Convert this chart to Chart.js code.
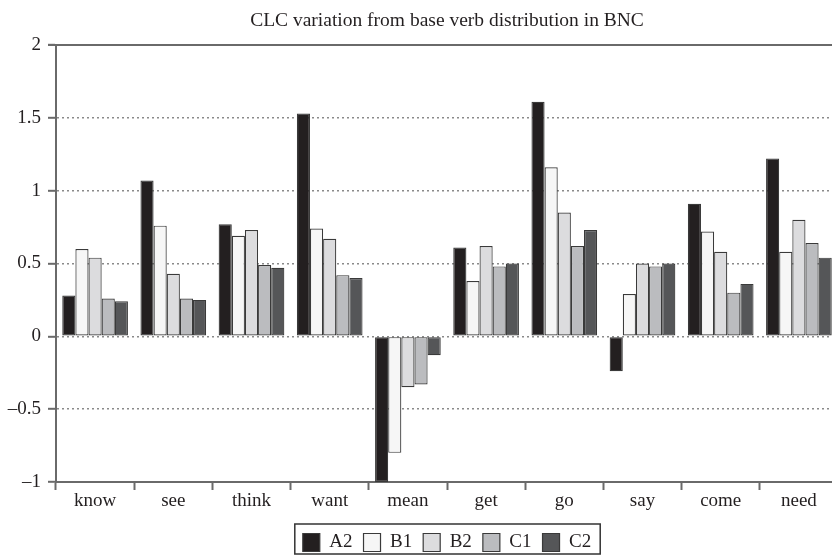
<!DOCTYPE html>
<html>
<head>
<meta charset="utf-8">
<script src="https://cdn.jsdelivr.net/npm/chart.js@4/dist/chart.umd.min.js"></script>
<style>
  html, body { margin: 0; padding: 0; background: #fff; overflow: hidden; }
  #wrap { width: 842px; height: 555px; }
</style>
</head>
<body>
<div id="wrap"><canvas id="clcChart" width="842" height="555"></canvas></div>
<script>
// Verbs on the x axis
const verbs = ['know', 'see', 'think', 'want', 'mean', 'get', 'go', 'say', 'come', 'need'];

// CLC levels, values
const a2 = [0.28, 1.07, 0.77, 1.53, -1.00, 0.61, 1.61, -0.24, 0.91, 1.22];
const b1 = [0.60, 0.76, 0.69, 0.74, -0.80, 0.38, 1.16, 0.29, 0.72, 0.58];
const b2 = [0.54, 0.43, 0.73, 0.67, -0.35, 0.62, 0.85, 0.50, 0.58, 0.80];
const c1 = [0.26, 0.26, 0.49, 0.42, -0.33, 0.48, 0.62, 0.48, 0.30, 0.64];
const c2 = [0.24, 0.25, 0.47, 0.40, -0.13, 0.50, 0.73, 0.50, 0.36, 0.54];

const yTicks = [-1, -0.5, 0, 0.5, 1, 1.5, 2];

const serif = "'Liberation Serif', 'DejaVu Serif', serif";
const inkColor = '#231f20';
const axisColor = '#6a6a6a';

// Cadre autour de la légende + ligne pleine en haut du graphique
const framePlugin = {
  id: 'frame',
  afterDraw(chart) {
    const ctx = chart.ctx;
    const area = chart.chartArea;
    const yScale = chart.scales.y;
    const yTop = yScale.getPixelForValue(yTicks[yTicks.length - 1]);

    ctx.save();
    ctx.strokeStyle = axisColor;
    ctx.lineWidth = 2;
    ctx.beginPath();
    ctx.moveTo(area.left - 8, yTop);
    ctx.lineTo(area.right, yTop);
    ctx.stroke();

    const boxes = chart.legend.legendHitBoxes;
    if (boxes && boxes.length) {
      const left = Math.min(...boxes.map(b => b.left)) - 8;
      const right = Math.max(...boxes.map(b => b.left + b.width)) + 9;
      const top = Math.min(...boxes.map(b => b.top)) - 9;
      const bottom = top + 30;
      ctx.strokeStyle = '#333';
      ctx.lineWidth = 1.5;
      ctx.strokeRect(left, top, right - left, bottom - top);
    }
    ctx.restore();
  }
};

const mkSet = (label, data, color) => ({
  label,
  data,
  backgroundColor: color,
  borderColor: '#3a3a3a',
  borderWidth: 1.2,
  borderSkipped: false,
  categoryPercentage: 0.84,
  barPercentage: 1.0
});

new Chart(document.getElementById('clcChart').getContext('2d'), {
  type: 'bar',
  data: {
    labels: verbs,
    datasets: [
      mkSet('A2', a2, '#231f20'),
      mkSet('B1', b1, '#f6f6f6'),
      mkSet('B2', b2, '#dcdcde'),
      mkSet('C1', c1, '#bbbcbf'),
      mkSet('C2', c2, '#555658')
    ]
  },
  options: {
    responsive: false,
    animation: false,
    layout: { padding: { top: 0, right: 4, left: 0, bottom: -7 } },
    plugins: {
      title: {
        display: true,
        text: 'CLC variation from base verb distribution in BNC',
        fullSize: false,
        color: inkColor,
        font: { family: serif, size: 19.5, weight: 'normal' },
        padding: { top: 9, bottom: 12.6 }
      },
      legend: {
        display: true,
        position: 'bottom',
        fullSize: false,
        labels: {
          color: inkColor,
          font: { family: serif, size: 19 },
          boxWidth: 17,
          boxHeight: 18,
          padding: 11
        }
      },
      tooltip: { enabled: false }
    },
    scales: {
      x: {
        offset: true,
        grid: {
          offset: true,
          drawOnChartArea: false,
          drawTicks: true,
          tickLength: 8,
          tickColor: axisColor,
          tickWidth: 2
        },
        border: { display: true, color: axisColor, width: 2 },
        ticks: {
          color: inkColor,
          font: { family: serif, size: 19 },
          padding: 0,
          maxRotation: 0
        },
        afterFit(scale) { scale.height = 40; }
      },
      y: {
        min: -1,
        max: 2,
        afterBuildTicks(scale) {
          scale.ticks = yTicks.map(v => ({ value: v }));
        },
        grid: {
          color: ctx => (ctx.tick && (ctx.tick.value === 2 || ctx.tick.value === -1)) ? 'rgba(0,0,0,0)' : '#8a8a8a',
          lineWidth: 1.6,
          drawTicks: true,
          tickLength: 8,
          tickColor: axisColor,
          tickWidth: 2,
          tickBorderDash: []
        },
        border: { display: true, color: axisColor, width: 2, dash: [2, 3] },
        ticks: {
          color: inkColor,
          font: { family: serif, size: 19 },
          padding: 7,
          callback: v => (v < 0 ? '\u2013' + Math.abs(v) : String(v))
        },
        afterFit(scale) { scale.width = 56; }
      }
    }
  },
  plugins: [framePlugin]
});
</script>
</body>
</html>
